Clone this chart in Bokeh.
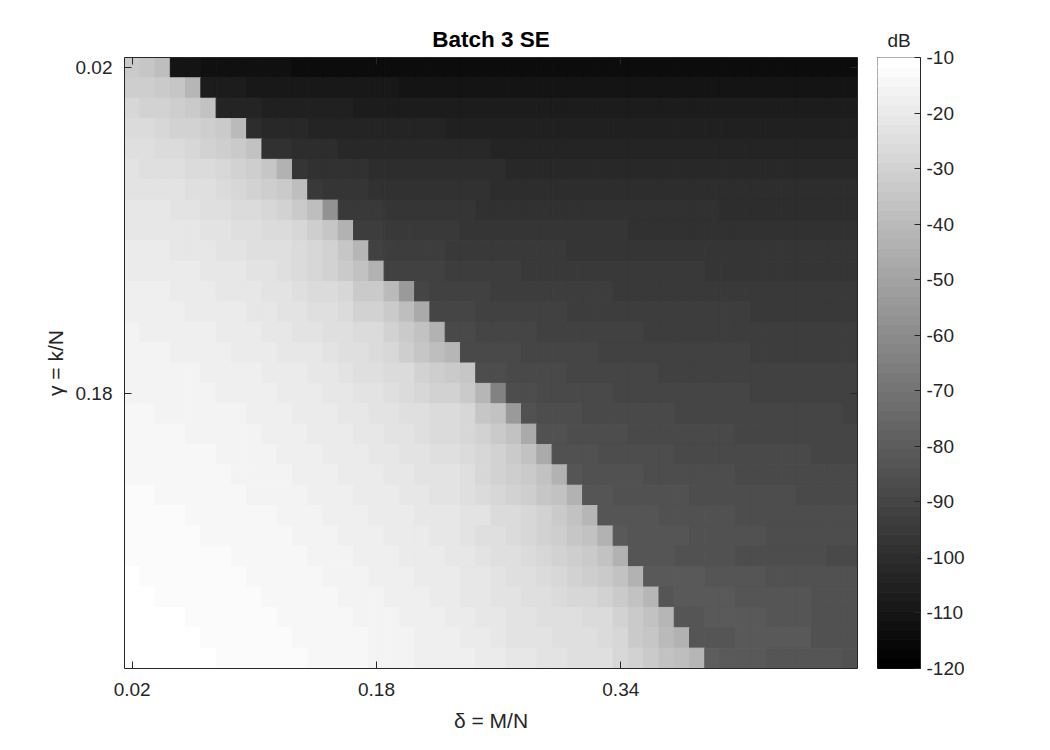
import numpy as np
from bokeh.embed import file_html
from bokeh.layouts import row
from bokeh.resources import INLINE
from bokeh.plotting import figure
from bokeh.models import (ColumnDataSource, FixedTicker, LinearAxis, LinearColorMapper,
                          NumeralTickFormatter, Range1d, Title)

TITLE = "Batch 3 SE"
CBAR_TITLE = "dB"
X_LABEL = "\u03b4 = M/N"
Y_LABEL = "\u03b3 = k/N"
delta_values = [0.02 + 0.01 * i for i in range(48)]
gamma_values = [0.02 + 0.01 * i for i in range(30)]
x_ticks = [0.02, 0.18, 0.34]
y_ticks = [0.02, 0.18]
cbar_ticks = [-10, -20, -30, -40, -50, -60, -70, -80, -90, -100, -110, -120]

# Reconstruction error in dB per row (gamma), as runs of (cells, dB) along delta
row_00 = [(1,-33.2),(1,-34.9),(1,-38.4),(2,-110.5),(6,-112.3),(37,-114)]
row_01 = [(2,-31.5),(1,-33.2),(1,-34.9),(1,-41.8),(3,-107.1),(10,-108.8),(30,-110.5)]
row_02 = [(1,-28.1),(2,-29.8),(1,-31.5),(1,-33.2),(1,-36.6),(3,-103.7),(6,-105.4),(33,-107.1)]
row_03 = [(2,-26.3),(1,-28.1),(2,-29.8),(1,-31.5),(1,-33.2),(1,-40.1),(1,-100.2),(3,-102),(9,-103.7),(27,-105.4)]
row_04 = [(2,-24.6),(2,-26.3),(1,-28.1),(1,-29.8),(1,-31.5),(1,-33.2),(1,-36.6),(2,-98.5),(3,-100.2),(10,-102),(24,-103.7)]
row_05 = [(1,-22.9),(3,-24.6),(2,-26.3),(1,-28.1),(1,-29.8),(1,-31.5),(1,-34.9),(1,-43.5),(1,-96.8),(4,-98.5),(9,-100.2),(23,-102)]
row_06 = [(4,-22.9),(2,-24.6),(1,-26.3),(1,-28.1),(1,-29.8),(1,-31.5),(1,-33.2),(1,-38.4),(1,-95.1),(3,-96.8),(8,-98.5),(24,-100.2)]
row_07 = [(3,-21.2),(2,-22.9),(2,-24.6),(2,-26.3),(1,-28.1),(1,-29.8),(1,-33.2),(1,-38.4),(1,-57.3),(3,-95.1),(6,-96.8),(16,-98.5),(9,-100.2)]
row_08 = [(5,-21.2),(2,-22.9),(2,-24.6),(2,-26.3),(1,-28.1),(1,-31.5),(1,-34.9),(1,-43.5),(2,-93.4),(5,-95.1),(11,-96.8),(15,-98.5)]
row_09 = [(3,-19.5),(3,-21.2),(2,-22.9),(3,-24.6),(1,-26.3),(1,-28.1),(1,-29.8),(1,-34.9),(1,-41.8),(1,-91.6),(4,-93.4),(8,-95.1),(19,-96.8)]
row_10 = [(5,-19.5),(3,-21.2),(2,-22.9),(1,-24.6),(1,-26.3),(1,-28.1),(1,-29.8),(1,-33.2),(1,-36.6),(1,-43.5),(4,-91.6),(5,-93.4),(12,-95.1),(10,-96.8)]
row_11 = [(3,-17.7),(3,-19.5),(3,-21.2),(2,-22.9),(1,-24.6),(2,-26.3),(1,-28.1),(2,-33.2),(1,-40.1),(1,-53.8),(1,-89.9),(4,-91.6),(8,-93.4),(16,-95.1)]
row_12 = [(4,-17.7),(4,-19.5),(2,-21.2),(2,-22.9),(2,-24.6),(1,-26.3),(2,-29.8),(1,-33.2),(1,-38.4),(1,-47),(3,-89.9),(6,-91.6),(12,-93.4),(7,-95.1)]
row_13 = [(1,-16),(5,-17.7),(3,-19.5),(2,-21.2),(2,-22.9),(2,-24.6),(2,-26.3),(1,-29.8),(1,-33.2),(1,-36.6),(1,-43.5),(2,-88.2),(4,-89.9),(7,-91.6),(14,-93.4)]
row_14 = [(3,-16),(4,-17.7),(3,-19.5),(3,-21.2),(1,-22.9),(2,-24.6),(1,-26.3),(1,-28.1),(1,-31.5),(1,-34.9),(1,-38.4),(1,-41.8),(4,-88.2),(5,-89.9),(10,-91.6),(7,-93.4)]
row_15 = [(5,-16),(4,-17.7),(3,-19.5),(2,-21.2),(1,-22.9),(2,-24.6),(2,-26.3),(1,-29.8),(1,-31.5),(1,-33.2),(1,-34.9),(2,-86.5),(4,-88.2),(6,-89.9),(13,-91.6)]
row_16 = [(6,-16),(4,-17.7),(3,-19.5),(2,-21.2),(2,-22.9),(1,-24.6),(1,-26.3),(1,-28.1),(2,-29.8),(1,-33.2),(1,-41.8),(1,-64.1),(2,-86.5),(5,-88.2),(9,-89.9),(7,-91.6)]
row_17 = [(2,-14.3),(6,-16),(3,-17.7),(3,-19.5),(2,-21.2),(2,-22.9),(2,-24.6),(2,-26.3),(1,-28.1),(1,-34.9),(1,-36.6),(1,-53.8),(1,-84.8),(3,-86.5),(6,-88.2),(11,-89.9),(1,-91.6)]
row_18 = [(4,-14.3),(5,-16),(3,-17.7),(3,-19.5),(2,-21.2),(2,-22.9),(1,-24.6),(2,-26.3),(1,-28.1),(1,-29.8),(1,-33.2),(1,-36.6),(1,-47),(2,-84.8),(4,-86.5),(7,-88.2),(8,-89.9)]
row_19 = [(6,-14.3),(4,-16),(3,-17.7),(3,-19.5),(2,-21.2),(2,-22.9),(2,-24.6),(1,-26.3),(1,-28.1),(1,-29.8),(1,-33.2),(1,-36.6),(1,-47),(3,-84.8),(5,-86.5),(9,-88.2),(3,-89.9)]
row_20 = [(7,-14.3),(4,-16),(3,-17.7),(3,-19.5),(2,-21.2),(3,-22.9),(1,-24.6),(1,-28.1),(1,-29.8),(1,-31.5),(1,-33.2),(1,-36.6),(1,-43.5),(1,-83),(4,-84.8),(6,-86.5),(8,-88.2)]
row_21 = [(2,-12.6),(6,-14.3),(4,-16),(3,-17.7),(3,-19.5),(2,-21.2),(2,-22.9),(1,-24.6),(1,-26.3),(1,-28.1),(1,-29.8),(1,-31.5),(1,-34.9),(1,-36.6),(1,-43.5),(2,-83),(5,-84.8),(7,-86.5),(4,-88.2)]
row_22 = [(4,-12.6),(6,-14.3),(3,-16),(3,-17.7),(3,-19.5),(3,-21.2),(2,-22.9),(2,-26.3),(1,-28.1),(1,-29.8),(1,-33.2),(1,-36.6),(1,-41.8),(4,-83),(5,-84.8),(8,-86.5)]
row_23 = [(5,-12.6),(6,-14.3),(3,-16),(3,-17.7),(3,-19.5),(2,-21.2),(1,-22.9),(2,-24.6),(1,-26.3),(1,-28.1),(1,-29.8),(1,-31.5),(1,-34.9),(1,-36.6),(1,-43.5),(1,-81.3),(4,-83),(5,-84.8),(6,-86.5)]
row_24 = [(7,-12.6),(5,-14.3),(3,-16),(3,-17.7),(3,-19.5),(2,-21.2),(1,-22.9),(2,-24.6),(1,-26.3),(1,-28.1),(1,-29.8),(1,-31.5),(1,-33.2),(1,-36.6),(1,-43.5),(3,-83),(4,-84.8),(6,-86.5),(2,-88.2)]
row_25 = [(1,-10.9),(7,-12.6),(5,-14.3),(3,-16),(3,-17.7),(3,-19.5),(2,-21.2),(1,-22.9),(2,-24.6),(1,-26.3),(1,-28.1),(1,-29.8),(1,-31.5),(1,-33.2),(1,-36.6),(1,-43.5),(4,-81.3),(4,-83),(6,-84.8)]
row_26 = [(2,-10.9),(7,-12.6),(5,-14.3),(3,-16),(3,-17.7),(2,-19.5),(2,-21.2),(2,-22.9),(2,-24.6),(1,-26.3),(2,-28.1),(1,-29.8),(1,-33.2),(1,-36.6),(1,-41.8),(1,-83),(4,-81.3),(5,-83),(3,-84.8)]
row_27 = [(4,-10.9),(6,-12.6),(5,-14.3),(3,-16),(3,-17.7),(2,-19.5),(2,-21.2),(2,-22.9),(3,-24.6),(2,-26.3),(1,-29.8),(1,-33.2),(1,-36.6),(1,-41.8),(2,-83),(4,-81.3),(3,-83),(3,-84.8)]
row_28 = [(5,-10.9),(6,-12.6),(5,-14.3),(3,-16),(3,-17.7),(2,-19.5),(1,-21.2),(3,-22.9),(3,-24.6),(1,-26.3),(1,-28.1),(1,-33.2),(1,-34.9),(1,-40.1),(1,-43.5),(3,-83),(5,-81.3),(3,-84.8)]
row_29 = [(6,-10.9),(6,-12.6),(4,-14.3),(3,-16),(4,-17.7),(2,-19.5),(2,-21.2),(2,-22.9),(3,-24.6),(1,-28.1),(1,-29.8),(1,-33.2),(1,-36.6),(1,-38.4),(1,-41.8),(1,-79.6),(3,-81.3),(5,-83),(1,-84.8)]

rows = [row_00, row_01, row_02, row_03, row_04, row_05, row_06, row_07, row_08, row_09,
        row_10, row_11, row_12, row_13, row_14, row_15, row_16, row_17, row_18, row_19,
        row_20, row_21, row_22, row_23, row_24, row_25, row_26, row_27, row_28, row_29]
grid = np.array([[v for n, v in r for _ in range(n)] for r in rows], dtype=float)
assert grid.shape == (len(gamma_values), len(delta_values))

FONT = "Liberation Sans"
INK = "#262626"
DB_LOW, DB_HIGH = -120, -10
palette = ["#%02x%02x%02x" % (g, g, g) for g in (round(i * 255 / 63) for i in range(64))]
mapper = LinearColorMapper(palette=palette, low=DB_LOW, high=DB_HIGH)

half = 0.005
x0, x1 = delta_values[0] - half, delta_values[-1] + half
y0, y1 = gamma_values[0] - half, gamma_values[-1] + half

p = figure(width=867, height=742, output_backend="svg", toolbar_location=None,
           x_range=Range1d(x0, x1), y_range=Range1d(y1, y0),
           frame_width=733, frame_height=611,
           min_border_left=124, min_border_right=10, min_border_top=57, min_border_bottom=74,
           x_axis_location=None, y_axis_location=None, background_fill_color="white",
           outline_line_color=None)
p.grid.visible = False

dd, gg = np.meshgrid(delta_values, gamma_values)
cells = ColumnDataSource(dict(left=(dd - half).ravel(), right=(dd + half).ravel(),
                              top=(gg - half).ravel(), bottom=(gg + half).ravel(),
                              db=grid.ravel()))
transform = dict(field="db", transform=mapper)
p.quad(left="left", right="right", top="top", bottom="bottom", source=cells,
       fill_color=transform, line_color=transform, line_width=1)


def style(ax, ticks, labels, tick_standoff, label_text=None, label_standoff=0):
    ax.ticker = FixedTicker(ticks=ticks)
    ax.formatter = NumeralTickFormatter(format="0.00")
    ax.axis_line_color = INK
    ax.major_tick_line_color = INK
    ax.major_tick_in = 7
    ax.major_tick_out = 0
    ax.minor_tick_line_color = None
    ax.major_label_text_font = FONT
    ax.major_label_text_font_size = "19px"
    ax.major_label_text_color = INK
    ax.major_label_standoff = tick_standoff
    if not labels:
        ax.major_label_text_font_size = "0px"
        ax.major_label_text_color = None
    if label_text:
        ax.axis_label = label_text
        ax.axis_label_text_font = FONT
        ax.axis_label_text_font_style = "normal"
        ax.axis_label_text_font_size = "21px"
        ax.axis_label_text_color = INK
        ax.axis_label_standoff = label_standoff


axis_specs = [("below", x_ticks, True, 14, X_LABEL, 10), ("above", x_ticks, False, 0, None, 0),
              ("left", y_ticks, True, 12, Y_LABEL, 6), ("right", y_ticks, False, 0, None, 0)]
for side, ticks, labels, tick_standoff, label_text, standoff in axis_specs:
    a = LinearAxis()
    style(a, ticks, labels, tick_standoff, label_text, standoff)
    p.add_layout(a, side)

p.add_layout(Title(text=TITLE, align="center", text_font=FONT, text_font_size="22.5px",
                   text_font_style="bold", text_color="black", standoff=12), "above")

# Colour bar: one band per colormap level, on its own dB axis
bar = figure(width=153, height=742, output_backend="svg", toolbar_location=None,
             x_range=Range1d(0, 1), y_range=Range1d(DB_LOW, DB_HIGH),
             frame_width=43, frame_height=611,
             min_border_left=10, min_border_right=100, min_border_top=57, min_border_bottom=74,
             x_axis_location=None, y_axis_location=None, background_fill_color="white",
             outline_line_color=INK)
bar.grid.visible = False
edges = np.linspace(DB_LOW, DB_HIGH, len(palette) + 1)
bar.quad(left=0, right=1, bottom=edges[:-1], top=edges[1:], fill_color=palette, line_color=palette,
         line_width=1)
bar_axis = LinearAxis(ticker=FixedTicker(ticks=cbar_ticks), axis_line_color=INK,
                      major_tick_line_color=INK, major_tick_in=6, major_tick_out=0,
                      minor_tick_line_color=None, major_label_text_font=FONT,
                      major_label_text_font_size="19px", major_label_text_color=INK,
                      major_label_standoff=6,
                      major_label_overrides={t: str(t) for t in cbar_ticks})
bar.add_layout(bar_axis, "right")
bar.add_layout(Title(text=CBAR_TITLE, align="center", text_font=FONT, text_font_size="19px",
                     text_font_style="normal", text_color=INK, standoff=14), "above")

open("out.html", "w").write(file_html(row(p, bar), INLINE))
